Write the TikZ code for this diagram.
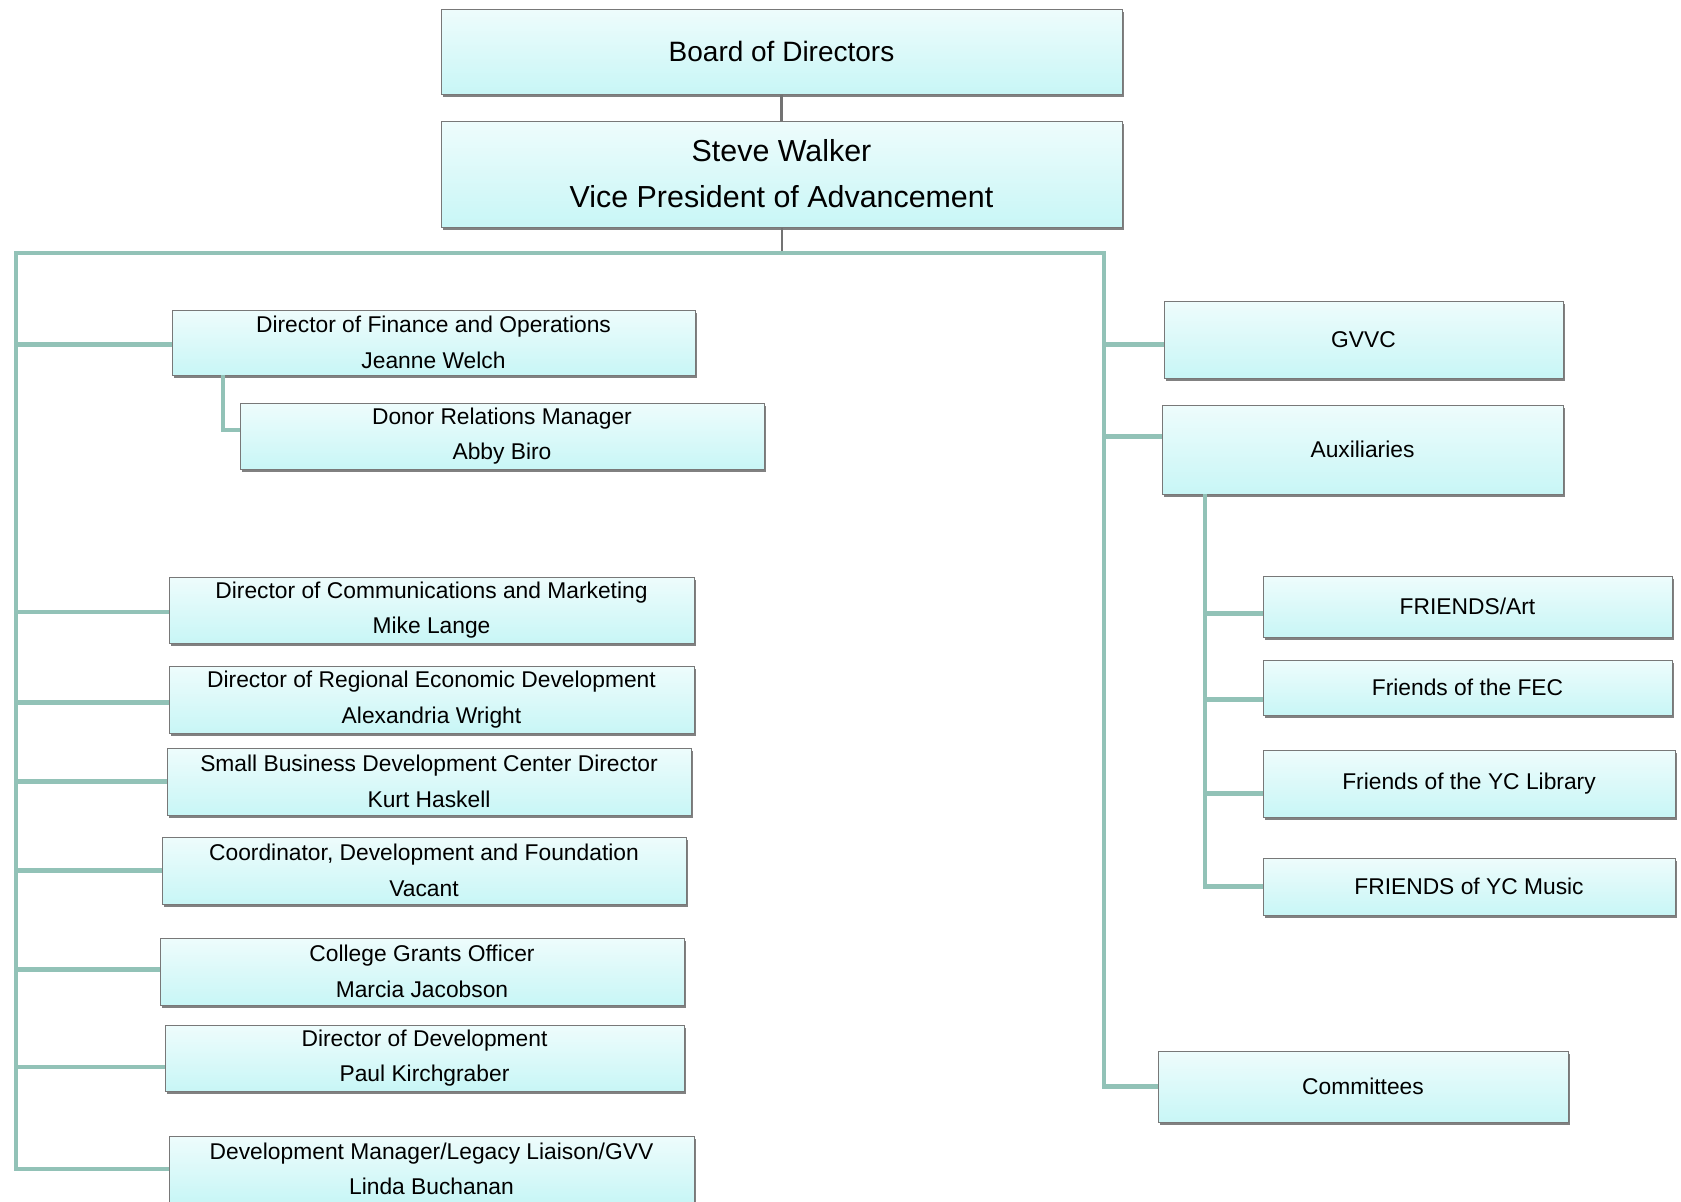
\documentclass[tikz,border=0pt]{standalone}
\usepackage{fontspec}
\setmainfont{Liberation Sans}
\usetikzlibrary{positioning,shadows}
\definecolor{boxtop}{RGB}{238,252,252}
\definecolor{boxbot}{RGB}{200,246,246}
\definecolor{boxline}{RGB}{120,120,120}
\definecolor{wirecol}{RGB}{146,194,183}

\begin{document}
\begin{tikzpicture}[x=0.5pt, y=-0.5pt,
    post/.style 2 args={draw=boxline, line width=0.5pt, top color=boxtop, bottom color=boxbot,
        drop shadow={shadow xshift=1pt, shadow yshift=-1.5pt, fill=black!70, opacity=0.7},
        minimum width=#1*0.5pt, minimum height=#2*0.5pt, inner sep=0pt, align=center,
        font=\fontsize{11.4}{17.7}\selectfont, text=black},
    wire/.style={draw=wirecol, line width=2.4pt},
    stem/.style={draw=black!55, line width=1.4pt}]
    \useasboundingbox (0,0) rectangle (1681,1201);
    \fill[white] (0,0) rectangle (1681,1201);

    % Top of the chart
    \node[post={681}{85}, font=\fontsize{14}{17}\selectfont] (board) at (781.5,51.5) {Board of Directors};
    \node[post={681}{106}, font=\fontsize{15.2}{23}\selectfont] (vp) at (781.5,174) {Steve Walker\\Vice President of Advancement};

    % Left column
    \node[post={523}{65}] (fin) at (433.5,342.5) {Director of Finance and Operations\\Jeanne Welch};
    \node[post={524}{66}] (donor) at (502,436) {Donor Relations Manager\\Abby Biro};
    \node[post={525}{66}] (comms) at (431.5,610) {Director of Communications and Marketing\\Mike Lange};
    \node[post={525}{67}] (regional) at (431.5,699.5) {Director of Regional Economic Development\\Alexandria Wright};
    \node[post={524}{67}] (sbdc) at (429,781.5) {Small Business Development Center Director\\Kurt Haskell};
    \node[post={524}{67}] (coord) at (424,870.5) {Coordinator, Development and Foundation\\Vacant};
    \node[post={524}{67}] (grants) at (422,971.5) {College Grants Officer\\Marcia Jacobson};
    \node[post={519}{66}] (devdir) at (424.5,1058) {Director of Development\\Paul Kirchgraber};
    \node[post={525}{66}] (devmgr) at (431.5,1169) {Development Manager/Legacy Liaison/GVV\\Linda Buchanan};

    % Right column
    \node[post={399}{77}] (gvvc) at (1363.5,339.5) {GVVC};
    \node[post={401}{89}] (aux) at (1362.5,449.5) {Auxiliaries};
    \node[post={409}{61}] (art) at (1467.5,606.5) {FRIENDS/Art};
    \node[post={409}{55}] (fec) at (1467.5,687.5) {Friends of the FEC};
    \node[post={412}{67}] (lib) at (1469,783.5) {Friends of the YC Library};
    \node[post={412}{57}] (music) at (1469,886.5) {FRIENDS of YC Music};
    \node[post={410}{71}] (committees) at (1363,1086.5) {Committees};

    % Connectors
    \coordinate (lt) at (16,253);
    \coordinate (rt) at (1104,253);
    \coordinate (fx) at (223,375);
    \coordinate (ax) at (1205,494);

    \draw[stem] (board.south) -- (vp.north);
    \draw[stem, line width=1pt] (vp.south) -- (vp.south |- lt);
    \draw[wire] (devmgr.west) -- (lt |- devmgr.west) -- (lt) -- (rt) -- (rt |- committees.west) -- (committees.west);
    \foreach \n/\dy in {fin/-1pt,comms/-1pt,regional/-1.5pt,sbdc/0pt,coord/0pt,grants/1pt,devdir/-4.5pt}
        \draw[wire] ([yshift=\dy]\n.west) coordinate (e) -- (lt |- e);
    \foreach \n/\dy in {gvvc/-2.5pt,aux/6.5pt}
        \draw[wire] ([yshift=\dy]\n.west) coordinate (e) -- (rt |- e);
    \draw[wire] (fx) |- ([yshift=3pt]donor.west);
    \draw[wire] (ax) |- (music.west);
    \foreach \n/\dy in {art/-3.5pt,fec/-6pt,lib/-5pt}
        \draw[wire] ([yshift=\dy]\n.west) coordinate (e) -- (ax |- e);
\end{tikzpicture}
\end{document}
